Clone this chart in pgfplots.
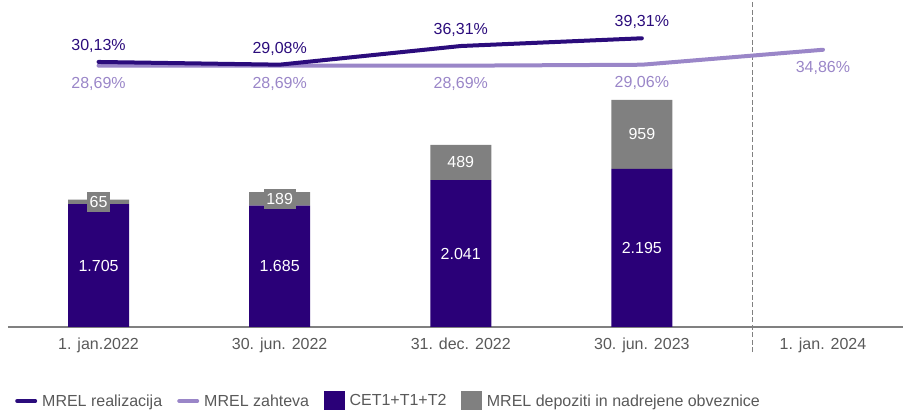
\documentclass[border=0pt]{standalone}
\usepackage{fontspec}
\setmainfont{Liberation Sans}
\usepackage{pgfplots}
\pgfplotsset{compat=1.18}
\usepackage{pgfplotstable}
\definecolor{cetblue}{HTML}{2A0078}
\definecolor{mrelgray}{HTML}{808080}
\definecolor{reallin}{HTML}{2B0C7C}
\definecolor{zahlin}{HTML}{9A86C8}
\definecolor{txtgray}{HTML}{595959}

\pgfplotstableread{
x cet mrel cetlab mrellab
0 1705 65 1.705 65
1 1685 189 1.685 189
2 2041 489 2.041 489
3 2195 959 2.195 959
}\bars

\pgfplotstableread{
x y lab
0 30.13 30,13
1 29.08 29,08
2 36.31 36,31
3 39.31 39,31
}\real

\pgfplotstableread{
x y lab
0 28.69 28,69
1 28.69 28,69
2 28.69 28,69
3 29.06 29,06
4 34.86 34,86
}\zah

\begin{document}
\begin{tikzpicture}[font=\fontsize{16bp}{19bp}\selectfont]
\begin{axis}[name=bars, at={(0,0)}, anchor=south west, scale only axis,
  width=895bp, height=327bp,
  xmin=-0.5, xmax=4.442, ymin=0, ymax=4542,
  ybar stacked, bar width=61bp,
  axis x line=bottom, axis y line=none,
  x axis line style={-, draw=mrelgray, line width=1.5bp},
  xtick={0,1,2,3,4},
  xticklabels={1. jan.2022, 30. jun. 2022, 31. dec. 2022, 30. jun. 2023, 1. jan. 2024},
  major tick length=0pt,
  xticklabel style={anchor=base, yshift=-22.7bp, inner sep=0pt, text=txtgray,
    font=\fontsize{16bp}{19bp}\selectfont},
  clip=false,
  point meta=explicit symbolic,
  nodes near coords={\pgfplotspointmeta},
  every node near coord/.append style={anchor=center, text=white,
    font=\fontsize{16bp}{19bp}\selectfont, inner xsep=2.5bp, inner ysep=4.2bp},
]
\addplot[fill=cetblue, draw=none] table[x=x, y=cet, meta=cetlab] {\bars};
\addplot[fill=mrelgray, draw=none,
  every node near coord/.append style={fill=mrelgray}] table[x=x, y=mrel, meta=mrellab] {\bars};
\end{axis}

\begin{axis}[at={(0,0)}, anchor=south west, scale only axis,
  width=895bp, height=327bp,
  xmin=-0.5, xmax=4.442, ymin=-72.6, ymax=54.15,
  axis lines=none, clip=false,
  point meta=explicit symbolic,
  legend columns=4,
  legend style={at={(0,0)}, anchor=west, xshift=7bp, yshift=-74bp,
    draw=none, fill=none, inner sep=0pt, text=txtgray,
    font=\fontsize{16bp}{19bp}\selectfont,
    nodes={inner sep=0pt},
    /tikz/every odd column/.append style={column sep=5bp},
    /tikz/every even column/.append style={column sep=15bp}},
]
\addlegendimage{legend image code/.code={\draw[reallin, line width=4bp, line cap=round] (2bp,0bp) -- (20bp,0bp);}}
\addlegendentry{MREL realizacija}
\addlegendimage{legend image code/.code={\draw[zahlin, line width=4bp, line cap=round] (2bp,0bp) -- (20bp,0bp);}}
\addlegendentry{MREL zahteva}
\addlegendimage{legend image code/.code={\fill[cetblue] (0bp,-10bp) rectangle (20bp,10bp);}}
\addlegendentry{CET1+T1+T2}
\addlegendimage{legend image code/.code={\fill[mrelgray] (0bp,-10bp) rectangle (20bp,10bp);}}
\addlegendentry{MREL depoziti in nadrejene obveznice}

\addplot[draw=mrelgray, line width=1.2bp, dash pattern=on 5bp off 2.5bp, forget plot]
  coordinates {(3.61,-82.3) (3.61,54.15)};

\addplot[zahlin, line width=4bp, line join=round, line cap=round, forget plot,
  nodes near coords={\pgfplotspointmeta\%},
  every node near coord/.append style={anchor=base, yshift=-22.7bp, text=zahlin, inner sep=0pt,
    font=\fontsize{16bp}{19bp}\selectfont}]
  table[x=x, y=y, meta=lab] {\zah};
\addplot[reallin, line width=4bp, line join=round, line cap=round, forget plot,
  nodes near coords={\pgfplotspointmeta\%},
  every node near coord/.append style={anchor=base, yshift=11.3bp, text=reallin, inner sep=0pt,
    font=\fontsize{16bp}{19bp}\selectfont}]
  table[x=x, y=y, meta=lab] {\real};
\end{axis}
\pgfresetboundingbox
\path[use as bounding box] ([xshift=-8bp,yshift=-83bp]bars.south west) rectangle (bars.north east);
\end{tikzpicture}
\end{document}
